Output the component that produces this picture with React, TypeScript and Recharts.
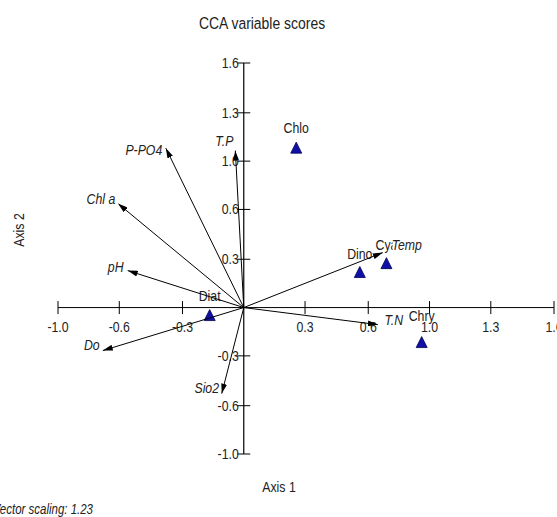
import { ScatterChart, Scatter, XAxis, YAxis } from 'recharts';

// axis ticks (scale step is ~0.323, labels are rounded like in the original output)
const X_TICKS = [-0.97, -0.65, -0.32, 0.32, 0.65, 0.97, 1.29, 1.62];
const X_TICK_LABELS = ['-1.0', '-0.6', '-0.3', '0.3', '0.6', '1.0', '1.3', '1.6'];
const Y_TICKS = [-0.97, -0.65, -0.32, 0.32, 0.65, 0.97, 1.29, 1.62];
const Y_TICK_LABELS = ['-1.0', '-0.6', '-0.3', '0.3', '0.6', '1.0', '1.3', '1.6'];

// species scores (triangles)
const SPECIES = ['Chlo', 'Dino', 'Cya', 'Chry', 'Diat'];
const SPECIES_X = [0.274, 0.606, 0.745, 0.929, -0.178];
const SPECIES_Y = [1.056, 0.232, 0.291, -0.232, -0.053];

// environmental variable vectors
const VARIABLES = ['T.P', 'P-PO4', 'Chl a', 'pH', 'Do', 'Sio2', 'Temp', 'T.N'];
const VAR_X = [-0.044, -0.407, -0.657, -0.606, -0.736, -0.115, 0.726, 0.7];
const VAR_Y = [1.04, 1.056, 0.689, 0.245, -0.285, -0.57, 0.364, -0.113];

const DOMAIN: [number, number] = [-0.97, 1.62];

// label placement (px from the arrow tip / marker centre)
const VAR_LABEL_OFFSET: Record<string, [number, number]> = {
  'T.P': [-11, -10],
  'P-PO4': [-22, 2],
  'Chl a': [-17, -5],
  pH: [-12, -4],
  Do: [-11, -6],
  Sio2: [-15, -6],
  Temp: [24, -8],
  'T.N': [16, -5],
};
const SPECIES_LABEL_DY: Record<string, number> = {
  Chlo: -20,
  Dino: -19,
  Cya: -19,
  Chry: -27,
  Diat: -20,
};

// no Arial Narrow here, so squeeze Liberation Sans horizontally
const FONT = "'Liberation Sans', Arial, sans-serif";
const TEXT = '#222';
const SQUEEZE = 0.82;

function NarrowText({ x, y, size, anchor = 'middle', italic = false, children }: any) {
  return (
    <text
      transform={`translate(${x},${y}) scale(${SQUEEZE},1)`}
      textAnchor={anchor}
      fontSize={size}
      fontStyle={italic ? 'italic' : 'normal'}
      fontFamily={FONT}
      fill={TEXT}
    >
      {children}
    </text>
  );
}

const xTickData = X_TICKS.map((v, i) => ({ x: v, y: 0, label: X_TICK_LABELS[i] }));
const yTickData = Y_TICKS.map((v, i) => ({ x: 0, y: v, label: Y_TICK_LABELS[i] }));
const speciesData = SPECIES.map((name, i) => ({ x: SPECIES_X[i], y: SPECIES_Y[i], name }));
const varData = VARIABLES.map((name, i) => ({ x: VAR_X[i], y: VAR_Y[i], name }));

const Empty = () => <g />;

const XTick = (props: any) => {
  const { cx, cy, payload } = props;
  return (
    <g>
      <line x1={cx} y1={cy - 6.5} x2={cx} y2={cy + 6.5} stroke="#000" />
      <NarrowText x={cx} y={cy + 24} size={15}>
        {payload.label}
      </NarrowText>
    </g>
  );
};

const YTick = (props: any) => {
  const { cx, cy, payload } = props;
  return (
    <g>
      <line x1={cx - 6.5} y1={cy} x2={cx + 6.5} y2={cy} stroke="#000" />
      <NarrowText x={cx - 5} y={cy + 5} size={15} anchor="end">
        {payload.label}
      </NarrowText>
    </g>
  );
};

const SpeciesMark = (props: any) => {
  const { cx, cy, payload } = props;
  const dy = SPECIES_LABEL_DY[payload.name] ?? -19;
  return (
    <g>
      <path
        d={`M${cx},${cy - 6} L${cx + 5.5},${cy + 5} L${cx - 5.5},${cy + 5} Z`}
        fill="#1010a8"
        stroke="#000050"
        strokeWidth={0.8}
      />
      <NarrowText x={cx} y={cy + dy + 5} size={15}>
        {payload.name}
      </NarrowText>
    </g>
  );
};

const VarLabel = (props: any) => {
  const { cx, cy, payload } = props;
  const [dx, dy] = VAR_LABEL_OFFSET[payload.name] ?? [0, 0];
  const w = payload.name.length * 6.6 + 2;
  return (
    <g>
      <rect x={cx + dx - w / 2} y={cy + dy - 8} width={w} height={15} fill="#fff" />
      <NarrowText x={cx + dx} y={cy + dy + 5} size={15} italic>
        {payload.name}
      </NarrowText>
    </g>
  );
};

export default function App() {
  return (
    <div style={{ position: 'absolute', left: 0, top: 0, width: 557, height: 517, background: '#fff' }}>
      <svg width={0} height={0} style={{ position: 'absolute' }}>
        <defs>
          <marker
            id="cca-arrow"
            viewBox="0 0 10 6"
            refX={10}
            refY={3}
            markerWidth={10}
            markerHeight={6}
            markerUnits="userSpaceOnUse"
            orient="auto"
          >
            <path d="M0,0 L10,3 L0,6 Z" fill="#000" />
          </marker>
        </defs>
      </svg>

      <ScatterChart width={557} height={517} margin={{ top: 63, right: 3, bottom: 63, left: 58 }}>
        <XAxis type="number" dataKey="x" domain={DOMAIN} hide />
        <YAxis type="number" dataKey="y" domain={DOMAIN} hide />

        <Scatter
          data={[{ x: DOMAIN[0], y: 0 }, { x: DOMAIN[1], y: 0 }]}
          line={{ stroke: '#000', strokeWidth: 1 }}
          shape={Empty}
          isAnimationActive={false}
        />
        <Scatter
          data={[{ x: 0, y: DOMAIN[0] }, { x: 0, y: DOMAIN[1] }]}
          line={{ stroke: '#000', strokeWidth: 1.2 }}
          shape={Empty}
          isAnimationActive={false}
        />
        <Scatter data={xTickData} shape={XTick} isAnimationActive={false} />
        <Scatter data={yTickData} shape={YTick} isAnimationActive={false} />
        <Scatter data={speciesData} shape={SpeciesMark} isAnimationActive={false} />

        {varData.map((v) => (
          <Scatter
            key={v.name}
            data={[{ x: 0, y: 0 }, { x: v.x, y: v.y }]}
            line={{ stroke: '#000', strokeWidth: 1, markerEnd: 'url(#cca-arrow)' }}
            shape={Empty}
            isAnimationActive={false}
          />
        ))}

        <Scatter data={varData} shape={VarLabel} isAnimationActive={false} />
      </ScatterChart>

      <svg
        width={557}
        height={517}
        style={{ position: 'absolute', left: 0, top: 0, pointerEvents: 'none' }}
      >
        <NarrowText x={262} y={29} size={17}>
          CCA variable scores
        </NarrowText>
        <g transform="rotate(-90 24 230)">
          <NarrowText x={24} y={230} size={15}>
            Axis 2
          </NarrowText>
        </g>
        <NarrowText x={279} y={492} size={15}>
          Axis 1
        </NarrowText>
        <NarrowText x={93} y={514} size={14} anchor="end" italic>
          Vector scaling: 1.23
        </NarrowText>
      </svg>
    </div>
  );
}
